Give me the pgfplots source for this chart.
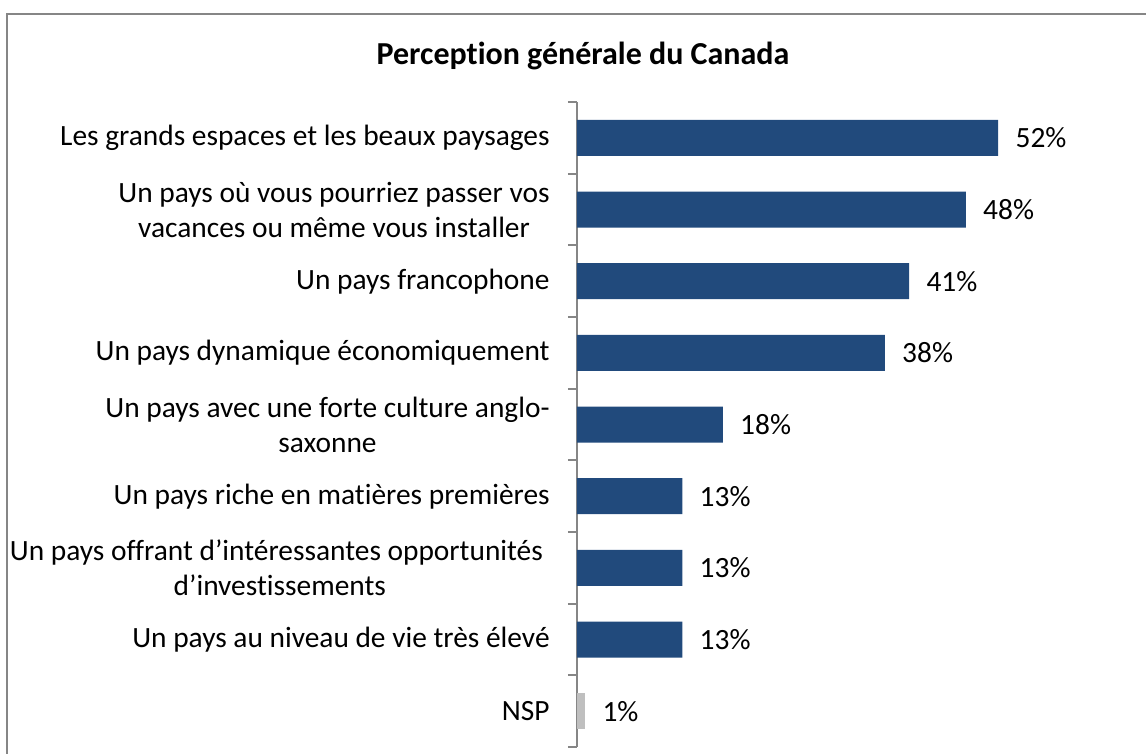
\documentclass[border=0pt]{standalone}
\usepackage{pgfplots}
\pgfplotsset{compat=1.18}
\usepackage{fontspec}
\setmainfont[Ligatures={NoCommon}]{Carlito}
\definecolor{barblue}{RGB}{33,74,124}
\definecolor{nspgray}{RGB}{191,191,191}
\definecolor{framegray}{RGB}{134,134,134}
\newcommand{\lblfont}{\fontsize{14.7}{17.5}\selectfont}
\begin{document}
\begin{tikzpicture}
\useasboundingbox (0,0) rectangle (573pt,377pt);
\draw[framegray, line width=1pt] (3.5pt,0) -- (3.5pt,370pt) -- (573pt,370pt);
\node[font=\fontsize{16}{19}\selectfont\bfseries] at (291.5pt,349pt) {Perception générale du Canada};
\begin{axis}[
  at={(288.5pt,3.5pt)}, anchor=south west,
  scale only axis, width=243pt, height=322.5pt,
  xbar, bar width=18pt, bar shift=0pt,
  xmin=0, xmax=60,
  ymin=-0.5, ymax=8.5, y dir=reverse,
  axis x line=none,
  axis y line*=left,
  y axis line style={framegray, line width=1pt},
  ytick={0,...,8},
  yticklabels={
    {Les grands espaces et les beaux paysages},
    {Un pays où vous pourriez passer vos\\vacances ou même vous installer},
    {Un pays francophone},
    {Un pays dynamique économiquement},
    {Un pays avec une forte culture anglo-\\saxonne},
    {Un pays riche en matières premières},
    {Un pays offrant d’intéressantes opportunités\ \ \\d’investissements},
    {Un pays au niveau de vie très élevé},
    {NSP}},
  major tick length=0pt,
  minor ytick={-0.5,0.5,...,8.5},
  minor tick length=4.5pt,
  tick align=outside,
  minor tick style={framegray, line width=1pt},
  yticklabel style={font=\lblfont, align=center, anchor=east, inner sep=0pt, xshift=-13.5pt, text=black},
  /pgf/number format/assume math mode=true,
  nodes near coords={\pgfmathprintnumber{\pgfplotspointmeta}\%},
  nodes near coords style={font=\lblfont, anchor=west, inner sep=0pt, xshift=8.5pt, text=black},
  point meta=x,
  clip=false,
]
\addplot[fill=barblue, draw=none] coordinates {(52,0) (48,1) (41,2) (38,3) (18,4) (13,5) (13,6) (13,7)};
\addplot[fill=nspgray, draw=none] coordinates {(1,8)};
\end{axis}
\end{tikzpicture}
\end{document}
